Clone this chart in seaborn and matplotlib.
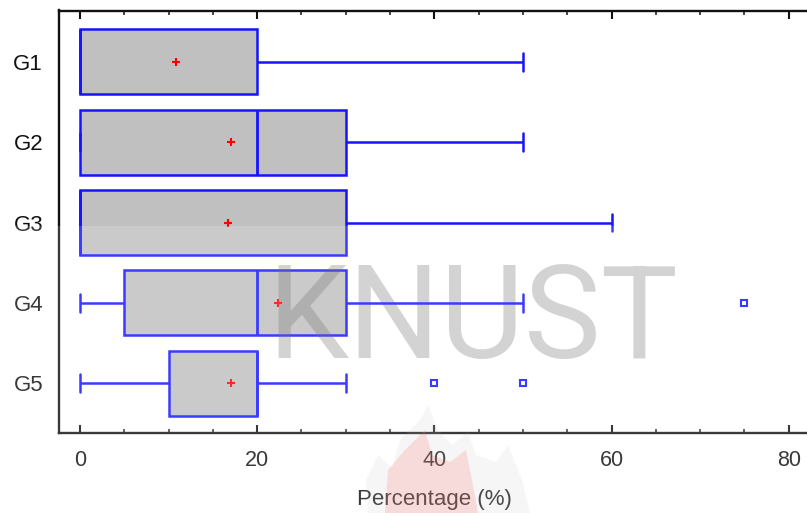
import matplotlib
matplotlib.use("Agg")
import matplotlib.pyplot as plt
from matplotlib.patches import Rectangle, Polygon
from matplotlib.ticker import MultipleLocator, AutoMinorLocator
import pandas as pd
import seaborn as sns

# raw percentages per group (chosen so the box stats match the figure)
groups = ["G1", "G2", "G3", "G4", "G5"]
g1 = [0, 0, 0, 0, 0, 0, 0, 20, 20, 20, 20, 50]
g2 = [0, 0, 0, 0, 5, 20, 20, 20, 30, 30, 30, 50]
g3 = [0, 0, 0, 0, 0, 0, 0, 30, 30, 30, 50, 60]
g4 = [0, 0, 5, 5, 5, 20, 20, 20, 30, 30, 30, 50, 75]
g5 = [0, 0, 0, 10, 10, 10, 10, 10, 20, 20, 20, 20, 20, 20, 30, 40, 50]
xticks = [0, 20, 40, 60, 80]

rows = []
for name, vals in zip(groups, [g1, g2, g3, g4, g5]):
    rows += [(name, v) for v in vals]
df = pd.DataFrame(rows, columns=["group", "pct"])

sns.set_style("ticks")
plt.rcParams["font.family"] = ["Liberation Sans", "DejaVu Sans"]

blue = "#1414ff"
fig = plt.figure(figsize=(8.07, 5.13), dpi=100)
ax = fig.add_axes([59 / 807, 80 / 513, 750 / 807, 422.5 / 513])

sns.boxplot(
    data=df, x="pct", y="group", order=groups, orient="h",
    color="#c0c0c0", saturation=1, linecolor=blue, linewidth=1.8,
    width=0.81, whis=1.5, capwidths=0.22, ax=ax,
    medianprops=dict(linewidth=2.0),
    flierprops=dict(marker="s", markerfacecolor="white",
                    markeredgecolor=blue, markersize=4.5, markeredgewidth=1.5),
    showmeans=True,
    meanprops=dict(marker="+", markeredgecolor="red", markersize=5.5,
                   markeredgewidth=1.5),
)
for ln in ax.lines:
    ln.set_zorder(3)

ax.set_xlim(-2.37, 82.28)
ax.set_ylim(4.62, -0.64)
ax.xaxis.set_major_locator(MultipleLocator(20))
ax.xaxis.set_minor_locator(AutoMinorLocator(4))
ax.set_xticks(xticks)
ax.set_ylabel("")
ax.set_xlabel("Percentage (%)", fontsize=16, labelpad=13, color="#111")

for side in ["left", "top", "bottom"]:
    ax.spines[side].set_color("#111")
    ax.spines[side].set_linewidth(1.7)
ax.spines["right"].set_visible(False)

ax.tick_params(axis="x", which="major", direction="in", top=True, bottom=True,
               length=6, width=1.5, pad=12, labelsize=15.5, colors="#111")
ax.tick_params(axis="x", which="minor", direction="in", top=True, bottom=True,
               length=3, width=1.2)
ax.tick_params(axis="y", length=0, pad=11.5, labelsize=16, colors="#111")

# watermark: faint overlay, KNUST text, flame
fig.patches.append(Rectangle((0, 0), 1, (513 - 226) / 513, transform=fig.transFigure,
                             facecolor="white", alpha=0.17, edgecolor="none",
                             zorder=5))

def fpts(pts):
    return [(x / 807, 1 - y / 513) for x, y in pts]

flame_grey = fpts([(368, 513), (366, 480), (378, 455), (392, 468), (400, 440),
                   (420, 420), (428, 405), (438, 430), (452, 445), (468, 432),
                   (476, 455), (496, 462), (508, 445), (522, 480), (530, 513)])
flame_pink = fpts([(385, 513), (388, 470), (405, 450), (425, 430), (432, 455),
                   (450, 462), (466, 450), (472, 480), (478, 513)])
fig.patches.append(Polygon(flame_grey, closed=True, transform=fig.transFigure,
                           facecolor="#bbbbbb", alpha=0.12, edgecolor="none",
                           zorder=5))
fig.patches.append(Polygon(flame_pink, closed=True, transform=fig.transFigure,
                           facecolor="#ff6060", alpha=0.18, edgecolor="none",
                           zorder=5))

ax.text(473 / 807, 1 - 322 / 513, "KNUST", ha="center", va="center",
        transform=fig.transFigure, clip_on=False,
        fontsize=93, fontweight="normal", color="#555555", alpha=0.3, zorder=2.5,
        family=["Roboto", "Liberation Sans", "DejaVu Sans"])

fig.savefig("out.png", dpi=100)
